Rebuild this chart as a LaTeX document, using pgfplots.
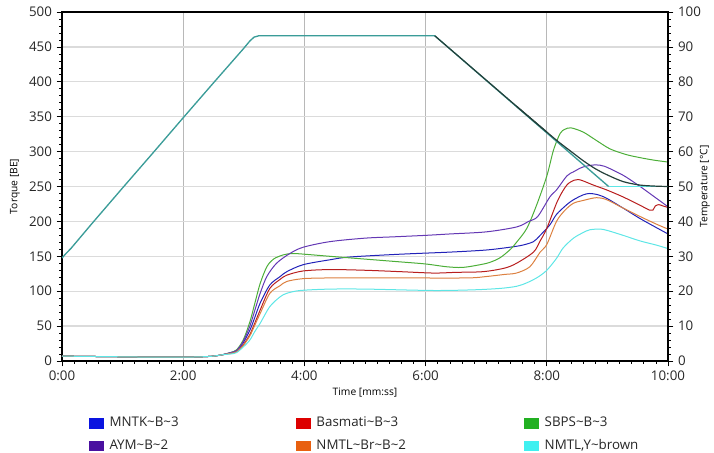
\documentclass[border=0pt]{standalone}
\usepackage{fontspec}
\setmainfont{Open Sans}
\usepackage{pgfplots}
\pgfplotsset{compat=1.18}

\definecolor{blueL}{HTML}{2222B8}
\definecolor{blueP}{HTML}{0A14E0}
\definecolor{redL}{HTML}{B81E1E}
\definecolor{redP}{HTML}{DD0000}
\definecolor{greenL}{HTML}{4CAE38}
\definecolor{greenP}{HTML}{22B022}
\definecolor{purpleL}{HTML}{6438B4}
\definecolor{purpleP}{HTML}{4A10A0}
\definecolor{orangeL}{HTML}{DC8040}
\definecolor{orangeP}{HTML}{E86010}
\definecolor{cyanL}{HTML}{5EE6E6}
\definecolor{cyanP}{HTML}{40F0F0}
\definecolor{tealT}{HTML}{3A9C98}
\definecolor{darkT}{HTML}{24403A}

% ---------------- torque data (time in minutes, torque in BE)
\pgfplotstableread{
t v
0 7
0.5 6.5
1.0 6
1.5 5.5
2.0 5.5
2.3 6
2.5 7
2.65 9
2.78 12
2.88 16
2.99 30
3.10 56
3.18 82
3.27 111
3.38 135
3.49 146
3.65 152
3.8 154
4.0 153
4.42 150
5.0 146
5.58 142
6.0 139
6.35 135
6.6 134
6.84 137
7.05 141
7.23 148
7.4 160
7.5 170
7.67 190
7.83 223
8.0 265
8.11 302
8.22 326
8.3 332
8.4 334
8.6 328
8.8 317
9.04 304
9.3 296
9.5 292
9.75 288
10 285
}\sbps
\pgfplotstableread{
t v
0 7
0.5 6.5
1.0 6
1.5 5.5
2.0 5.5
2.3 6
2.5 7
2.65 9
2.78 12
2.88 15
2.99 28
3.10 50
3.18 72
3.27 97
3.38 121
3.54 140
3.76 154
3.98 163
4.42 171
5.0 176
5.5 178
6.0 180
6.4 182
7.0 185
7.5 192
7.7 200
7.85 207
8.05 235
8.16 245
8.33 265
8.44 271
8.6 278
8.8 281
8.95 279
9.15 271
9.3 264
9.54 250
9.81 233
10 221
}\aym
\pgfplotstableread{
t v
0 7
0.5 6.5
1.0 6
1.5 5.5
2.0 5.5
2.3 6
2.5 7
2.65 9
2.78 12
2.88 15
2.99 26
3.10 44
3.18 62
3.27 83
3.43 109
3.6 121
3.71 128
3.98 138
4.42 145
4.75 149
5.58 153
6.4 156
7.0 159
7.39 163
7.6 166
7.78 171
7.89 180
8.05 195
8.16 210
8.33 224
8.44 231
8.6 238
8.71 240
8.85 238
8.99 233
9.26 219
9.54 204
9.81 191
10 182
}\mntk
\pgfplotstableread{
t v
0 7
0.5 6.5
1.0 6
1.5 5.5
2.0 5.5
2.3 6
2.5 7
2.65 9
2.78 11
2.88 13
2.99 23
3.10 38
3.18 54
3.27 73
3.43 104
3.6 117
3.71 123
3.98 129
4.42 131
5.0 130
5.58 128
6.13 126
6.5 127
6.95 128
7.3 133
7.5 140
7.78 156
7.89 172
8.0 190
8.18 230
8.33 252
8.45 259
8.52 260
8.6 258
8.77 252
8.99 245
9.26 235
9.54 223
9.70 216
9.75 216
9.79 222
9.85 224
9.92 222
10 220
}\basmati
\pgfplotstableread{
t v
0 7
0.5 6.5
1.0 6
1.5 5.5
2.0 5.5
2.3 6
2.5 7
2.65 9
2.78 11
2.88 13
2.99 22
3.10 36
3.18 51
3.27 68
3.43 97
3.6 108
3.71 114
3.98 118
4.42 119
5.0 119
5.58 119
6.68 119
7.0 121
7.3 124
7.5 126
7.72 135
7.89 156
8.0 167
8.16 200
8.3 216
8.44 226
8.6 230
8.82 234
8.99 231
9.26 219
9.54 207
9.81 196
10 189
}\nmtlbr
\pgfplotstableread{
t v
0 7
0.5 6.5
1.0 6
1.5 5.5
2.0 5.5
2.3 6
2.5 7
2.65 9
2.78 10
2.88 12
2.99 20
3.10 30
3.18 42
3.27 54
3.43 78
3.6 92
3.71 97
3.93 101
4.42 103
5.02 103
6.13 101
6.8 102
7.23 104
7.5 107
7.67 112
7.85 120
8.0 130
8.16 147
8.27 162
8.44 176
8.6 184
8.71 188
8.88 189
9.0 187
9.26 180
9.54 172
9.81 166
10 161
}\nmtly
% ---------------- temperature data (degC)
\pgfplotstableread{
t v
0 29.5
0.05 30.5
0.15 32.3
0.5 39.5
1 49.6
1.5 59.6
2 69.7
2.5 79.7
3.0 89.6
3.1 91.7
3.17 92.8
3.25 93.2
6.15 93.2
9.02 50.0
}\tempA
\pgfplotstableread{
t v
9.02 50.0
10 50.0
}\tempAflat
\pgfplotstableread{
t v
6.15 93.2
7.5 73.0
8.0 65.6
}\tempB
\pgfplotstableread{
t v
7.5 73.0
8.0 65.6
8.2 62.7
8.38 60.3
8.6 57.4
8.8 55.1
9.0 53.3
9.26 51.4
9.54 50.4
9.8 50.1
10 50.0
}\tempBtail

\begin{document}
\begin{tikzpicture}
\begin{axis}[
  name=main, at={(0,0)}, anchor=south west,
  width=454.5pt, height=261.75pt, scale only axis,
  xmin=0, xmax=10, ymin=0, ymax=500,
  xtick={0,2,4,6,8,10}, xticklabels={0:00,2:00,4:00,6:00,8:00,10:00},
  ytick={0,50,...,500},
  minor x tick num=9, minor y tick num=4,
  xtick pos=bottom, ytick pos=left,
  tick align=outside,
  major tick length=4pt, minor tick length=2pt,
  every tick/.style={black, line width=0.5pt},
  axis line style={black, line width=1.3pt},
  grid=major,
  x grid style={black!28, line width=0.5pt},
  y grid style={black!14, line width=1pt},
  tick label style={font=\fontsize{10}{12}\selectfont, text=black!85},
  /pgf/number format/assume math mode=true,
  xlabel={Time [mm:ss]}, ylabel={Torque [BE]},
  every axis x label/.style={at={(axis description cs:0.5,-0.0917)}, anchor=center, font=\fontsize{7.7}{9}\selectfont},
  every axis y label/.style={at={(axis description cs:-0.0776,0.5)}, anchor=center, rotate=90, font=\fontsize{7.7}{9}\selectfont},
  legend columns=3,
  legend style={draw=none, fill=none, at={(axis description cs:0.045,-0.1593)}, anchor=north west,
    inner sep=0pt, outer sep=0pt, row sep=7pt, column sep=0pt,
    font=\fontsize{10}{12}\selectfont,
    nodes={inner sep=0pt, anchor=west, text height=7.5pt, text depth=2.5pt, text=black!85}},
  legend image code/.code={\filldraw[#1, line width=0.4pt] (0pt,-3.4pt) rectangle (10.5pt,3.4pt); \path[draw=none, fill=none] (0pt,0pt) rectangle (15pt,0.1pt);},
  every axis plot/.append style={line width=0.75pt, smooth, tension=0.5},
]
\addplot[blueL, legend image post style={fill=blueP, draw=blueP}] table[x=t,y=v] {\mntk};
\addlegendentry{\makebox[140pt][l]{MNTK\textasciitilde B\textasciitilde 3}}
\addplot[redL, legend image post style={fill=redP, draw=redP}] table[x=t,y=v] {\basmati};
\addlegendentry{\makebox[156pt][l]{Basmati\textasciitilde B\textasciitilde 3}}
\addplot[greenL, legend image post style={fill=greenP, draw=greenP}] table[x=t,y=v] {\sbps};
\addlegendentry{SBPS\textasciitilde B\textasciitilde 3}
\addplot[purpleL, legend image post style={fill=purpleP, draw=purpleP}] table[x=t,y=v] {\aym};
\addlegendentry{\makebox[140pt][l]{AYM\textasciitilde B\textasciitilde 2}}
\addplot[orangeL, legend image post style={fill=orangeP, draw=orangeP}] table[x=t,y=v] {\nmtlbr};
\addlegendentry{\makebox[156pt][l]{NMTL\textasciitilde Br\textasciitilde B\textasciitilde 2}}
\addplot[cyanL, legend image post style={fill=cyanP, draw=cyanP}] table[x=t,y=v] {\nmtly};
\addlegendentry{NMTL,Y\textasciitilde brown}
\end{axis}
\begin{axis}[
  at={(0,0)}, anchor=south west,
  width=454.5pt, height=261.75pt, scale only axis,
  xmin=0, xmax=10, ymin=0, ymax=100,
  axis x line=none, axis y line*=right,
  ytick={0,10,...,100}, minor y tick num=4,
  tick align=outside,
  major tick length=4pt, minor tick length=2pt,
  every tick/.style={black, line width=0.5pt},
  axis line style={black, line width=1.3pt},
  tick label style={font=\fontsize{10}{12}\selectfont, text=black!85},
  /pgf/number format/assume math mode=true,
  ylabel={Temperature [°C]},
  every axis y label/.style={at={(axis description cs:1.061,0.5)}, anchor=center, rotate=90, font=\fontsize{7.7}{9}\selectfont},
]
\addplot[tealT, line width=1pt] table[x=t,y=v] {\tempA};
\addplot[cyanL, line width=1pt] table[x=t,y=v] {\tempAflat};
\addplot[darkT, line width=0.9pt] table[x=t,y=v] {\tempB};
\addplot[darkT, line width=0.9pt, smooth, tension=0.5] table[x=t,y=v] {\tempBtail};
\end{axis}
\pgfresetboundingbox
\path (-46.5pt,-69pt) rectangle (489pt,270.75pt);
\end{tikzpicture}
\end{document}
